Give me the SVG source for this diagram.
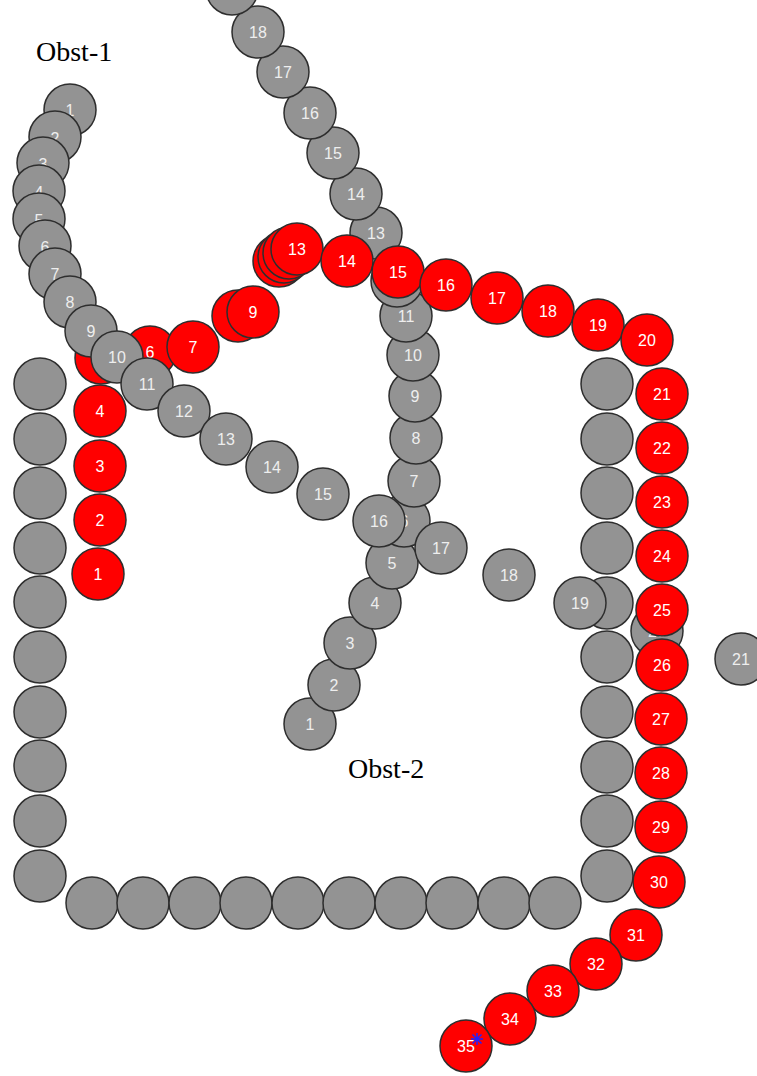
<svg xmlns="http://www.w3.org/2000/svg" width="757" height="1076" viewBox="0 0 757 1076">
<style>
.g circle{fill:#939393;stroke:#2e2e2e;stroke-width:1.5}
.r circle{fill:#ff0000;stroke:#2e2e2e;stroke-width:1.5}
.w{fill:#939393;stroke:#2e2e2e;stroke-width:1.5}
text.n{font-family:"Liberation Sans",Arial,sans-serif;font-size:16px;text-anchor:middle}
.g text{fill:#eeeeee}
.r text{fill:#ffffff}
.t{font-family:"Liberation Serif","Times New Roman",serif;font-size:28px;fill:#000}
</style>
<rect width="757" height="1076" fill="#ffffff"/>
<text class="t" x="36" y="61">Obst-1</text>
<text class="t" x="348" y="778">Obst-2</text>
<g id="walls">
<circle class="w" cx="40" cy="384" r="26"/><circle class="w" cx="40" cy="439" r="26"/><circle class="w" cx="40" cy="493" r="26"/><circle class="w" cx="40" cy="548" r="26"/><circle class="w" cx="40" cy="602" r="26"/><circle class="w" cx="40" cy="657" r="26"/><circle class="w" cx="40" cy="712" r="26"/><circle class="w" cx="40" cy="766" r="26"/><circle class="w" cx="40" cy="821" r="26"/><circle class="w" cx="40" cy="876" r="26"/>
<circle class="w" cx="92" cy="903" r="26"/><circle class="w" cx="143" cy="903" r="26"/><circle class="w" cx="195" cy="903" r="26"/><circle class="w" cx="246" cy="903" r="26"/><circle class="w" cx="298" cy="903" r="26"/><circle class="w" cx="349" cy="903" r="26"/><circle class="w" cx="401" cy="903" r="26"/><circle class="w" cx="452" cy="903" r="26"/><circle class="w" cx="504" cy="903" r="26"/><circle class="w" cx="555" cy="903" r="26"/>
<circle class="w" cx="607" cy="384" r="26"/><circle class="w" cx="607" cy="439" r="26"/><circle class="w" cx="607" cy="493" r="26"/><circle class="w" cx="607" cy="548" r="26"/><circle class="w" cx="607" cy="603" r="26"/><circle class="w" cx="607" cy="657" r="26"/><circle class="w" cx="607" cy="712" r="26"/><circle class="w" cx="607" cy="767" r="26"/><circle class="w" cx="607" cy="821" r="26"/><circle class="w" cx="607" cy="876" r="26"/>
</g>
<g id="connectors"/>
<g id="b1" class="g"><circle cx="310" cy="724" r="26"/><text class="n" x="310" y="730">1</text></g>
<g id="r1" class="r"><circle cx="98" cy="574" r="26"/><text class="n" x="98" y="580">1</text></g>
<g id="a1" class="g"><circle cx="70" cy="110" r="26"/><text class="n" x="70" y="116">1</text></g>
<g id="b2" class="g"><circle cx="334" cy="685" r="26"/><text class="n" x="334" y="691">2</text></g>
<g id="r2" class="r"><circle cx="100" cy="520" r="26"/><text class="n" x="100" y="526">2</text></g>
<g id="a2" class="g"><circle cx="55" cy="137" r="26"/><text class="n" x="55" y="144">2</text></g>
<g id="b3" class="g"><circle cx="350" cy="643" r="26"/><text class="n" x="350" y="649">3</text></g>
<g id="r3" class="r"><circle cx="100" cy="466" r="26"/><text class="n" x="100" y="472">3</text></g>
<g id="a3" class="g"><circle cx="43" cy="163" r="26"/><text class="n" x="43" y="170">3</text></g>
<g id="b4" class="g"><circle cx="375" cy="603" r="26"/><text class="n" x="375" y="609">4</text></g>
<g id="r4" class="r"><circle cx="100" cy="411" r="26"/><text class="n" x="100" y="417">4</text></g>
<g id="a4" class="g"><circle cx="39" cy="191" r="26"/><text class="n" x="39" y="198">4</text></g>
<g id="b5" class="g"><circle cx="392" cy="563" r="26"/><text class="n" x="392" y="569">5</text></g>
<g id="r5" class="r"><circle cx="101" cy="358" r="26"/></g>
<g id="a5" class="g"><circle cx="39" cy="219" r="26"/><text class="n" x="39" y="226">5</text></g>
<g id="b6" class="g"><circle cx="404" cy="521" r="26"/><text class="n" x="404" y="527">6</text></g>
<g id="r6" class="r"><circle cx="150" cy="352" r="26"/><text class="n" x="150" y="358">6</text></g>
<g id="a6" class="g"><circle cx="45" cy="246" r="26"/><text class="n" x="45" y="253">6</text></g>
<g id="b7" class="g"><circle cx="414" cy="481" r="26"/><text class="n" x="414" y="487">7</text></g>
<g id="r7" class="r"><circle cx="193" cy="347" r="26"/><text class="n" x="193" y="353">7</text></g>
<g id="a7" class="g"><circle cx="55" cy="274" r="26"/><text class="n" x="55" y="280">7</text></g>
<g id="b8" class="g"><circle cx="416" cy="438" r="26"/><text class="n" x="416" y="444">8</text></g>
<g id="r8" class="r"><circle cx="238" cy="316" r="26"/></g>
<g id="a8" class="g"><circle cx="70" cy="302" r="26"/><text class="n" x="70" y="308">8</text></g>
<g id="b9" class="g"><circle cx="415" cy="396" r="26"/><text class="n" x="415" y="402">9</text></g>
<g id="r9" class="r"><circle cx="253" cy="312" r="26"/><text class="n" x="253" y="318">9</text></g>
<g id="a9" class="g"><circle cx="91" cy="331" r="26"/><text class="n" x="91" y="337">9</text></g>
<g id="b10" class="g"><circle cx="413" cy="355" r="26"/><text class="n" x="413" y="361">10</text></g>
<g id="r10" class="r"><circle cx="279" cy="261" r="26"/></g>
<g id="a10" class="g"><circle cx="117" cy="357" r="26"/><text class="n" x="117" y="363">10</text></g>
<g id="b11" class="g"><circle cx="406" cy="316" r="26"/><text class="n" x="406" y="322">11</text></g>
<g id="r11" class="r"><circle cx="284" cy="257" r="26"/></g>
<g id="a11" class="g"><circle cx="147" cy="384" r="26"/><text class="n" x="147" y="390">11</text></g>
<g id="b12" class="g"><circle cx="397" cy="281" r="26"/></g>
<g id="r12" class="r"><circle cx="289" cy="253" r="26"/></g>
<g id="a12" class="g"><circle cx="184" cy="411" r="26"/><text class="n" x="184" y="417">12</text></g>
<g id="b13" class="g"><circle cx="376" cy="233" r="26"/><text class="n" x="376" y="239">13</text></g>
<g id="r13" class="r"><circle cx="297" cy="249" r="26"/><text class="n" x="297" y="255">13</text></g>
<g id="a13" class="g"><circle cx="226" cy="439" r="26"/><text class="n" x="226" y="445">13</text></g>
<g id="b14" class="g"><circle cx="356" cy="194" r="26"/><text class="n" x="356" y="200">14</text></g>
<g id="r14" class="r"><circle cx="347" cy="261" r="26"/><text class="n" x="347" y="267">14</text></g>
<g id="a14" class="g"><circle cx="272" cy="467" r="26"/><text class="n" x="272" y="473">14</text></g>
<g id="b15" class="g"><circle cx="333" cy="153" r="26"/><text class="n" x="333" y="159">15</text></g>
<g id="r15" class="r"><circle cx="398" cy="272" r="26"/><text class="n" x="398" y="278">15</text></g>
<g id="a15" class="g"><circle cx="323" cy="494" r="26"/><text class="n" x="323" y="500">15</text></g>
<g id="b16" class="g"><circle cx="310" cy="113" r="26"/><text class="n" x="310" y="119">16</text></g>
<g id="r16" class="r"><circle cx="446" cy="285" r="26"/><text class="n" x="446" y="291">16</text></g>
<g id="a16" class="g"><circle cx="379" cy="521" r="26"/><text class="n" x="379" y="527">16</text></g>
<g id="b17" class="g"><circle cx="283" cy="72" r="26"/><text class="n" x="283" y="78">17</text></g>
<g id="r17" class="r"><circle cx="497" cy="298" r="26"/><text class="n" x="497" y="304">17</text></g>
<g id="a17" class="g"><circle cx="441" cy="548" r="26"/><text class="n" x="441" y="554">17</text></g>
<g id="b18" class="g"><circle cx="258" cy="32" r="26"/><text class="n" x="258" y="38">18</text></g>
<g id="r18" class="r"><circle cx="548" cy="311" r="26"/><text class="n" x="548" y="317">18</text></g>
<g id="a18" class="g"><circle cx="509" cy="575" r="26"/><text class="n" x="509" y="581">18</text></g>
<g id="b19" class="g"><circle cx="232" cy="-11" r="26"/></g>
<g id="r19" class="r"><circle cx="598" cy="325" r="26"/><text class="n" x="598" y="331">19</text></g>
<g id="a19" class="g"><circle cx="580" cy="603" r="26"/><text class="n" x="580" y="609">19</text></g>
<g id="r20" class="r"><circle cx="647" cy="340" r="26"/><text class="n" x="647" y="346">20</text></g>
<g id="a20" class="g"><circle cx="657" cy="631" r="26"/><text class="n" x="657" y="637">20</text></g>
<g id="r21" class="r"><circle cx="662" cy="394" r="26"/><text class="n" x="662" y="400">21</text></g>
<g id="a21" class="g"><circle cx="741" cy="659" r="26"/><text class="n" x="741" y="665">21</text></g>
<g id="r22" class="r"><circle cx="662" cy="448" r="26"/><text class="n" x="662" y="454">22</text></g>
<g id="r23" class="r"><circle cx="662" cy="502" r="26"/><text class="n" x="662" y="508">23</text></g>
<g id="r24" class="r"><circle cx="662" cy="556" r="26"/><text class="n" x="662" y="562">24</text></g>
<g id="r25" class="r"><circle cx="662" cy="610" r="26"/><text class="n" x="662" y="616">25</text></g>
<g id="r26" class="r"><circle cx="662" cy="665" r="26"/><text class="n" x="662" y="671">26</text></g>
<g id="r27" class="r"><circle cx="661" cy="719" r="26"/><text class="n" x="661" y="725">27</text></g>
<g id="r28" class="r"><circle cx="661" cy="773" r="26"/><text class="n" x="661" y="779">28</text></g>
<g id="r29" class="r"><circle cx="661" cy="827" r="26"/><text class="n" x="661" y="833">29</text></g>
<g id="r30" class="r"><circle cx="659" cy="882" r="26"/><text class="n" x="659" y="888">30</text></g>
<g id="r31" class="r"><circle cx="636" cy="935" r="26"/><text class="n" x="636" y="941">31</text></g>
<g id="r32" class="r"><circle cx="596" cy="964" r="26"/><text class="n" x="596" y="970">32</text></g>
<g id="r33" class="r"><circle cx="553" cy="991" r="26"/><text class="n" x="553" y="997">33</text></g>
<g id="r34" class="r"><circle cx="510" cy="1019" r="26"/><text class="n" x="510" y="1025">34</text></g>
<g id="r35" class="r"><circle cx="466" cy="1046" r="26"/><text class="n" x="466" y="1052">35</text></g>
<g id="goal"><path d="M477 1033v12M471 1039h12M472.5 1034.5l9 9M481.5 1034.5l-9 9" stroke="#2020ff" stroke-width="1.5" fill="none"/></g>
</svg>
